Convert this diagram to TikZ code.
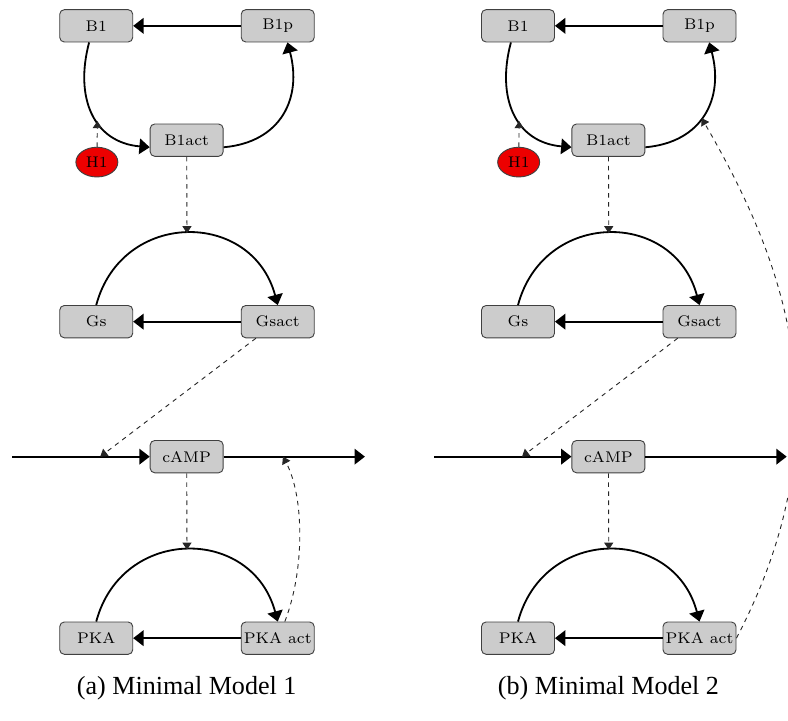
\documentclass[tikz,border=0pt]{standalone}
\usepackage{fontspec}
\usepackage{tikz}
\newfontfamily\mmcapfont{Liberation Serif}
\usetikzlibrary{arrows.meta,shapes.geometric}
\definecolor{mmgray}{RGB}{204,204,204}
\definecolor{mmred}{RGB}{236,0,0}
\tikzset{
  mmbox/.style={draw=black!75, rounded corners=2pt, fill=mmgray, align=center, minimum width=1.13cm, minimum height=.5cm, inner sep=1pt, font=\fontsize{6.8}{8}\selectfont},
  mmhorm/.style={draw=black!75, ellipse, fill=mmred, minimum width=.65cm, minimum height=.46cm, inner sep=0pt, font=\fontsize{6.8}{8}\selectfont},
  mmarr/.style={-{Triangle[length=1.6mm,width=2.4mm]}, thick},
  mmdash/.style={-{Triangle[length=1.1mm,width=1.4mm]}, dash pattern=on 2pt off 2pt, draw=black!85},
  mmcap/.style={font=\mmcapfont\fontsize{11.5}{13}\selectfont}
}
% common part of both minimal models
\newcommand{\mmpathway}{%
  \node[mmbox] (B1) at (1.49,10.76) {B1};
  \node[mmbox] (B1p) at (4.30,10.76) {B1p};
  \node[mmbox] (B1act) at (2.89,8.99) {B1act};
  \node[mmhorm] (H1) at (1.50,8.65) {H1};
  \node[mmbox] (Gs) at (1.49,6.18) {Gs};
  \node[mmbox] (Gsact) at (4.30,6.18) {Gsact};
  \node[mmbox] (cAMP) at (2.89,4.09) {cAMP};
  \node[mmbox] (PKA) at (1.49,1.28) {PKA};
  \node[mmbox] (PKAact) at (4.30,1.28) {PKA act};
  \coordinate (src) at (0.19,4.09);
  \coordinate (sink) at (5.65,4.09);
  % receptor cycle
  \draw[mmarr] (B1p) -- (B1);
  \draw[mmarr] ([xshift=-.11cm]B1.south) to[out=-105,in=175,looseness=1.2] coordinate[pos=.57] (hitB1) ([yshift=-.11cm]B1act.west);
  \draw[mmarr] ([yshift=-.11cm]B1act.east) to[out=5,in=-75,looseness=1.2] coordinate[pos=.46] (hitB1p) ([xshift=.15cm]B1p.south);
  \draw[mmdash] (H1) -- (hitB1);
  % G protein cycle
  \draw[mmarr] (Gsact) -- (Gs);
  \draw[mmarr] (Gs.north) to[out=75,in=105,looseness=1.4] coordinate[pos=.5] (gtop) (Gsact.north);
  \draw[mmdash] (B1act) -- (gtop);
  % cAMP production and degradation
  \draw[mmarr] (src) -- coordinate[pos=.64] (campin) (cAMP);
  \draw[mmarr] (cAMP) -- coordinate[pos=.42] (campout) (sink);
  \draw[mmdash] (Gsact) -- (campin);
  % PKA cycle
  \draw[mmarr] (PKAact) -- (PKA);
  \draw[mmarr] (PKA.north) to[out=75,in=105,looseness=1.4] coordinate[pos=.5] (ptop) (PKAact.north);
  \draw[mmdash] (cAMP) -- (ptop);
}

\begin{document}
\begin{tikzpicture}
  \useasboundingbox (0,0) rectangle (12.2,11.16);
  \begin{scope}
    \mmpathway
    \draw[mmdash] ([xshift=.11cm]PKAact.north) .. controls +(.31,.8) and +(.33,-.62) .. (campout);
    \node[mmcap] (capa) at (2.89,.51) {(a) Minimal Model 1};
  \end{scope}
  \begin{scope}[xshift=6.53cm]
    \mmpathway
    \draw[mmdash] (PKAact.east) .. controls +(1.75,3.34) and +(1.24,-2.14) .. (hitB1p);
    \node[mmcap] (capb) at (2.89,.51) {(b) Minimal Model 2};
  \end{scope}
\end{tikzpicture}
\end{document}
